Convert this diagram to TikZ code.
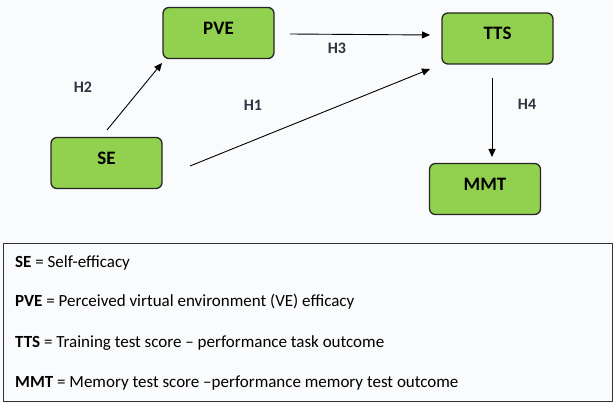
\documentclass[tikz,border=0pt]{standalone}
\usepackage{fontspec}
\setmainfont{Carlito}
\usetikzlibrary{arrows.meta}
\definecolor{boxgreen}{HTML}{92D050}
\definecolor{bg}{HTML}{FAFBFC}
\definecolor{hcol}{HTML}{2A3340}
\tikzset{
  vbox/.style={draw=black!85, line width=1.3pt, fill=boxgreen, rounded corners=6pt,
    minimum width=111pt, minimum height=51pt, text height=13pt, text depth=10pt,
    font=\fontsize{19}{21}\selectfont\bfseries, anchor=center},
  conn/.style={line width=0.9pt, -{Triangle[length=8pt,width=7pt]}},
  hlab/.style={font=\fontsize{16}{18}\selectfont\bfseries, text=hcol},
  legtext/.style={font=\fontsize{17}{19}\selectfont, anchor=west, inner sep=0pt}
}
\begin{document}
\begin{tikzpicture}[x=1pt,y=-1pt]
\fill[bg] (0,0) rectangle (613,403);
\useasboundingbox (0,0) rectangle (613,403);
\node[vbox] (pve) at (218.5,33) {PVE};
\node[vbox] (se) at (106.5,163) {SE};
\node[vbox] (tts) at (497.5,38.5) {TTS};
\node[vbox] (mmt) at (485,189) {MMT};
\coordinate (seA) at (107,130);
\coordinate (pveA) at (162,63);
\coordinate (pveB) at (290,34);
\coordinate (ttsA) at (430,35);
\coordinate (seB) at (190,166);
\coordinate (ttsB) at (430,69);
\coordinate (ttsC) at (492,78);
\coordinate (mmtA) at (492,157);
\draw[conn] (seA) -- (pveA);
\draw[conn] (pveB) -- (ttsA);
\draw[conn] (seB) -- (ttsB);
\draw[conn] (ttsC) -- (mmtA);
\node[hlab] (h2) at (83,87) {H2};
\node[hlab] (h1) at (253,105) {H1};
\node[hlab] (h3) at (337,48) {H3};
\node[hlab] (h4) at (527,104) {H4};
\draw[black!80, line width=0.9pt] (3,243) rectangle (612,401);
\node[legtext] (l1) at (15,263) {\textbf{SE} = Self-efficacy};
\node[legtext] (l2) at (15,302) {\textbf{PVE} = Perceived virtual environment (VE) efficacy};
\node[legtext] (l3) at (15,343) {\textbf{TTS} = Training test score -- performance task outcome};
\node[legtext] (l4) at (15,383) {\textbf{MMT} = Memory test score --performance memory test outcome};
\end{tikzpicture}
\end{document}
